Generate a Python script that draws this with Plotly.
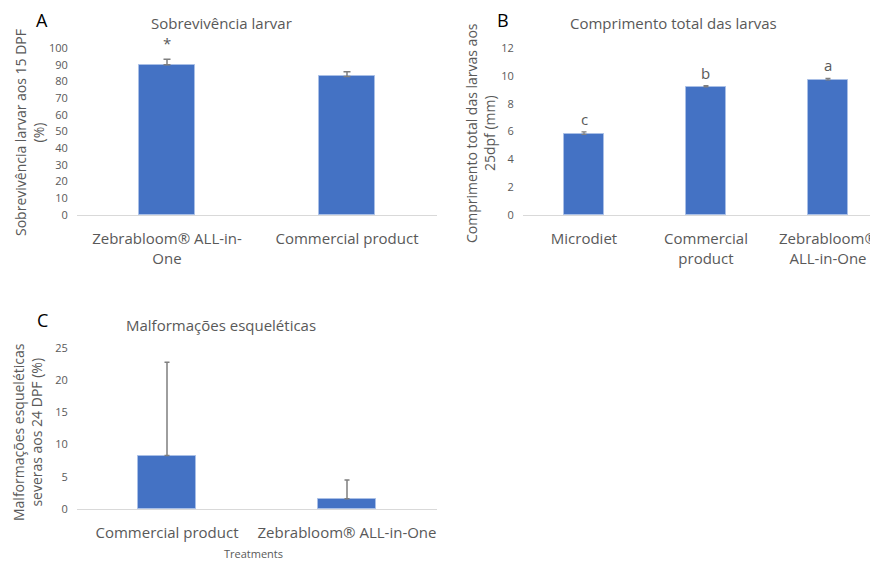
import plotly.graph_objects as go

# ---- data ----
a_cats = ["Zebrabloom® ALL-in-<br>One", "Commercial product"]
a_vals = [90.0, 83.0]
a_err = [3.3, 2.8]
a_marks = ["*", ""]

b_cats = ["Microdiet", "Commercial<br>product", "Zebrabloom®<br>ALL-in-One"]
b_vals = [5.8, 9.2, 9.7]
b_err = [0.17, 0.10, 0.12]
b_marks = ["c", "b", "a"]

c_cats = ["Commercial product", "Zebrabloom® ALL-in-One"]
c_vals = [8.3, 1.6]
c_err = [14.5, 2.9]

BAR = "#4472C4"
EDGE = "#A9BFE6"
TXT = "#595959"
AX = "#D9D9D9"
FONT = "Open Sans"

# the page body adds an 8px margin, so the figure is sized to fill the rest of the window
OFF = 8
W, H = 878 - OFF, 561 - OFF

def px(x):
    return (x - OFF) / W

def py(y):
    return 1 - (y - OFF) / H

fig = go.Figure()

fig.add_trace(go.Bar(x=a_cats, y=a_vals, width=0.31, xaxis="x", yaxis="y",
                     marker=dict(color=BAR, line=dict(color=EDGE, width=1)),
                     error_y=dict(type="data", array=a_err, arrayminus=[0]*len(a_err), symmetric=False,
                                  color="#7F7F7F", thickness=1.5, width=3.5)))
fig.add_trace(go.Bar(x=b_cats, y=b_vals, width=0.32, xaxis="x2", yaxis="y2",
                     marker=dict(color=BAR, line=dict(color=EDGE, width=1)),
                     error_y=dict(type="data", array=b_err, arrayminus=[0]*len(b_err), symmetric=False,
                                  color="#7F7F7F", thickness=1.2, width=2.5)))
fig.add_trace(go.Bar(x=c_cats, y=c_vals, width=0.32, xaxis="x3", yaxis="y3",
                     marker=dict(color=BAR, line=dict(color=EDGE, width=1)),
                     error_y=dict(type="data", array=c_err, arrayminus=[0]*len(c_err), symmetric=False,
                                  color="#7F7F7F", thickness=1.5, width=2.5)))

xcommon = dict(type="category", showgrid=False, showline=True, linecolor=AX, linewidth=1,
               ticks="outside", ticklen=10, tickcolor="rgba(0,0,0,0)", automargin=False,
               tickfont=dict(family=FONT, size=15, color=TXT), zeroline=False, fixedrange=True)
ycommon = dict(showgrid=False, showline=False, zeroline=False, ticks="outside", ticklen=6,
               automargin=False, tickcolor="rgba(0,0,0,0)", tickfont=dict(family=FONT, size=11, color=TXT))

fig.update_layout(
    width=W, height=H, margin=dict(l=0, r=0, t=0, b=0, autoexpand=False),
    paper_bgcolor="white", plot_bgcolor="white", showlegend=False, bargap=0,
    xaxis=dict(xcommon, domain=[px(77), px(437)], anchor="y", range=[-0.5, 1.5]),
    yaxis=dict(ycommon, domain=[py(215), py(48)], anchor="x", range=[0, 100], dtick=10),
    xaxis2=dict(xcommon, domain=[px(523), 1.0], anchor="y2", range=[-0.5, 2.41]),
    yaxis2=dict(ycommon, domain=[py(215), py(48)], anchor="x2", range=[0, 12], dtick=2),
    xaxis3=dict(xcommon, domain=[px(77), px(437)], anchor="y3", range=[-0.5, 1.5]),
    yaxis3=dict(ycommon, domain=[py(509), py(348)], anchor="x3", range=[0, 25], dtick=5),
)

ann = []
def title(txt, x, y, size=15):
    ann.append(dict(text=txt, x=px(x), y=py(y), xref="paper", yref="paper", showarrow=False,
                    xanchor="center", yanchor="middle", font=dict(family=FONT, size=size, color=TXT)))

def letter(txt, x, y):
    ann.append(dict(text=txt, x=px(x), y=py(y), xref="paper", yref="paper", showarrow=False,
                    xanchor="center", yanchor="middle", font=dict(family=FONT, size=18, color="#000000")))

def ytitle(txt, x, y):
    ann.append(dict(text=txt, x=px(x), y=py(y), xref="paper", yref="paper", showarrow=False,
                    textangle=-90, xanchor="center", yanchor="middle",
                    font=dict(family=FONT, size=14, color=TXT)))

title("Sobrevivência larvar", 221, 23)
title("Comprimento total das larvas", 673, 23)
title("Malformações esqueléticas", 221, 325)
letter("A", 42, 20)
letter("B", 503, 20)
letter("C", 42, 320)
ytitle("Sobrevivência larvar aos 15 DPF<br>(%)", 29, 133)
ytitle("Comprimento total das larvas aos<br>25dpf (mm)", 480, 133)
ytitle("Malformações esqueléticas<br>severas aos 24 DPF (%)", 27, 432)
ann.append(dict(text="Treatments", x=px(253), y=py(553), xref="paper", yref="paper", showarrow=False,
                xanchor="center", yanchor="middle", font=dict(family=FONT, size=11, color=TXT)))

for c, v, e, m in zip(a_cats, a_vals, a_err, a_marks):
    if m:
        ann.append(dict(text=m, x=c, y=v + e, xref="x", yref="y", showarrow=False, yanchor="bottom",
                        yshift=4, font=dict(family=FONT, size=15, color=TXT)))
for c, v, e, m in zip(b_cats, b_vals, b_err, b_marks):
    ann.append(dict(text=m, x=c, y=v + e, xref="x2", yref="y2", showarrow=False, yanchor="bottom",
                    yshift=1, font=dict(family=FONT, size=15, color=TXT)))

fig.update_layout(annotations=ann)
fig.write_html("out.html")
